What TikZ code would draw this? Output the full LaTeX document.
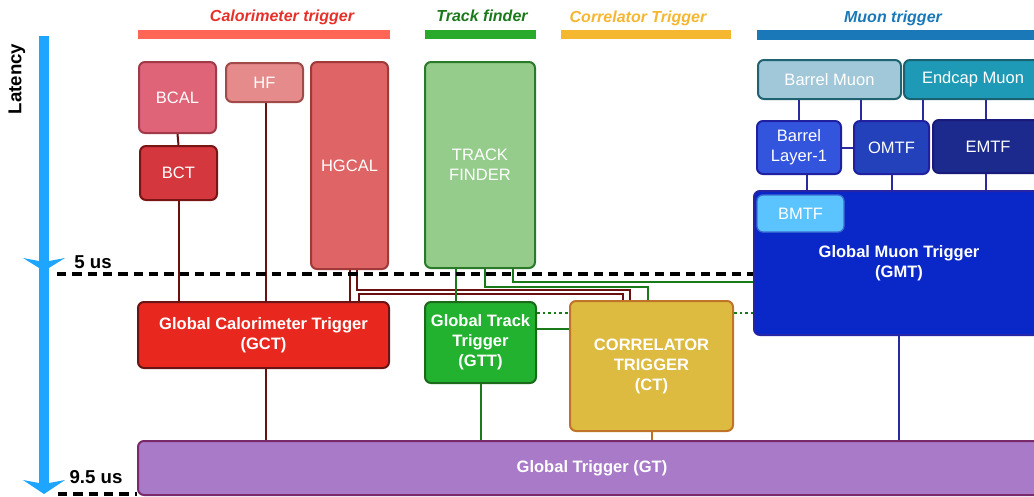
\documentclass[tikz,border=0pt]{standalone}
\usepackage{fontspec}
\setmainfont{Liberation Sans}
\usetikzlibrary{calc}
\definecolor{calored}{HTML}{E8302A}
\definecolor{calobar}{HTML}{FF6655}
\definecolor{trkdark}{HTML}{1A7A1A}
\definecolor{trkbar}{HTML}{2AAA2A}
\definecolor{corr}{HTML}{F5B630}
\definecolor{muon}{HTML}{1A78B8}
\definecolor{latblue}{HTML}{1EA5FF}
\definecolor{caloline}{HTML}{6A1010}
\definecolor{ctline}{HTML}{C07020}
\definecolor{muline}{HTML}{2A2AA0}
\tikzset{
  px/.style={x=0.75pt,y=-0.75pt},
  box/.style={draw, line width=1.5pt, rounded corners=4.5pt, text=white,
    font=\fontsize{12.4}{15}\selectfont, align=center, inner sep=0pt},
  bbox/.style={box, font=\fontsize{12.4}{15}\bfseries\selectfont},
  title/.style={font=\fontsize{12}{14}\bfseries\itshape\selectfont},
  caloc/.style={draw=caloline, line width=1.5pt},
  trkc/.style={draw=trkdark, line width=1.5pt},
  trkdot/.style={draw=trkdark, line width=2pt, dash pattern=on 2pt off 2.2pt},
  ctc/.style={draw=ctline, line width=1.5pt},
  muc/.style={draw=muline, line width=1.5pt},
  latdash/.style={draw=black, line width=3pt, dash pattern=on 7pt off 4.5pt},
  lattext/.style={font=\fontsize{14}{16}\bfseries\selectfont},
}
\newcommand\mkbox[7]{%
  \node[#6, minimum width={(#4-#2)*0.75pt}, minimum height={(#5-#3)*0.75pt}]
    (#1) at ({(#2+#4)/2},{(#3+#5)/2}) {#7};}
\begin{document}
\begin{tikzpicture}[px]
\useasboundingbox (0,0) rectangle (1034,496);
\clip (0,0) rectangle (1034,496);

% titles and bars
\node[title, text=calored] (tcalo) at (282,17) {Calorimeter trigger};
\node[title, text=trkdark] (ttrk) at (482,16) {Track finder};
\node[title, text=corr] (tcorr) at (638,18) {Correlator Trigger};
\node[title, text=muon] (tmuon) at (893,18) {Muon trigger};
\fill[calobar] (138,30) rectangle (390,39);
\fill[trkbar] (425,30) rectangle (536,39);
\fill[corr] (561,30) rectangle (731,39);
\fill[muon] (757,30) rectangle (1040,40);

% latency axis
\node[lattext, rotate=90] (lat) at (17,79) {Latency};
\draw[latblue, line width=7.5pt] (44,36) -- (44,484);
\fill[latblue] (23,258) -- (39,261) -- (49,261) -- (65,258) -- (44,271) -- cycle;
\fill[latblue] (23,480) -- (39,483) -- (49,483) -- (65,480) -- (44,494) -- cycle;
\node[lattext] (t5) at (93,262) {5 us};
\node[lattext] (t95) at (96,477) {9.5 us};

% calorimeter boxes
\mkbox{bcal}{139}{62}{216}{133}{box, fill={rgb,255:red,224;green,100;blue,119}, draw={rgb,255:red,160;green,58;blue,72}}{BCAL}
\mkbox{hf}{226}{63}{303}{102}{box, fill={rgb,255:red,229;green,139;blue,139}, draw={rgb,255:red,160;green,74;blue,74}}{HF}
\mkbox{hgcal}{311}{62}{388}{269}{box, fill={rgb,255:red,222;green,100;blue,102}, draw={rgb,255:red,160;green,58;blue,58}}{HGCAL}
\mkbox{bct}{140}{146}{217}{200}{box, fill={rgb,255:red,212;green,55;blue,61}, draw={rgb,255:red,122;green,21;blue,21}}{BCT}
\mkbox{gct}{138}{302}{389}{368}{bbox, fill={rgb,255:red,232;green,40;blue,31}, draw={rgb,255:red,106;green,21;blue,21}}{Global Calorimeter Trigger\\(GCT)}

% track boxes
\mkbox{tf}{425}{62}{535}{268}{box, fill={rgb,255:red,149;green,204;blue,140}, draw={rgb,255:red,42;green,122;blue,42}}{TRACK\\FINDER}
\mkbox{gtt}{425}{302}{536}{383}{bbox, fill={rgb,255:red,35;green,178;blue,48}, draw={rgb,255:red,26;green,106;blue,26}}{Global Track\\Trigger\\(GTT)}

% correlator
\mkbox{ct}{570}{301}{733}{431}{bbox, fill={rgb,255:red,221;green,186;blue,64}, draw={rgb,255:red,192;green,116;blue,42}}{CORRELATOR\\TRIGGER\\(CT)}

% muon boxes
\mkbox{bm}{758}{60}{901}{99}{box, fill={rgb,255:red,160;green,200;blue,216}, draw={rgb,255:red,31;green,98;blue,114}}{Barrel Muon}
\mkbox{em}{904}{60}{1042}{99}{box, fill={rgb,255:red,30;green,154;blue,182}, draw={rgb,255:red,26;green,98;blue,114}}{Endcap Muon}
\mkbox{bl}{757}{121}{841}{174}{box, fill={rgb,255:red,51;green,85;blue,222}, draw={rgb,255:red,32;green,32;blue,160}}{Barrel\\Layer-1}
\mkbox{omtf}{854}{121}{929}{174}{box, fill={rgb,255:red,34;green,65;blue,186}, draw={rgb,255:red,32;green,32;blue,160}}{OMTF}
\mkbox{emtf}{933}{120}{1043}{173}{box, fill={rgb,255:red,27;green,42;blue,140}, draw={rgb,255:red,26;green,26;blue,122}}{EMTF}
\mkbox{gmt}{754}{191}{1044}{335}{bbox, fill={rgb,255:red,10;green,39;blue,200}, draw={rgb,255:red,37;green,37;blue,165}}{Global Muon Trigger\\(GMT)}
\mkbox{bmtf}{757}{195}{844}{232}{box, fill={rgb,255:red,91;green,195;blue,253}, draw={rgb,255:red,60;green,110;blue,210}, line width=1pt}{BMTF}

% global trigger
\mkbox{gt}{138}{441}{1046}{495}{bbox, fill={rgb,255:red,168;green,122;blue,200}, draw={rgb,255:red,122;green,42;blue,106}}{Global Trigger (GT)}

% calo connectors
\draw[caloc] (bcal.south) -- (bct.north);
\draw[caloc] (bct.south) -- (bct.south |- gct.north);
\coordinate (hfx) at ($(hf.south)+(1.5,0)$);
\draw[caloc] (hfx) -- (hfx |- gct.north);
\coordinate (gctx) at ($(gct.south)+(2.5,0)$);
\draw[caloc] (gctx) -- (gctx |- gt.north);
\draw[caloc] (hgcal.south) -- (hgcal.south |- gct.north);
\draw[caloc] ($(hgcal.south)+(7,0)$) -- ++(0,20) -| ($(ct.north)+(-21.5,0)$);
\draw[caloc] ($(gct.north)+(95,0)$) -- ++(0,-7) -| ($(ct.north)+(-28.5,0)$);

% track connectors
\coordinate (t1) at ($(tf.south)+(-24,0)$);
\draw[trkc] (t1) -- (t1 |- gtt.north);
\draw[trkc] ($(tf.south)+(5,0)$) -- ++(0,18) -| ($(ct.north)+(-3.5,0)$);
\coordinate (t3) at ($(tf.south)+(33,13)$);
\draw[trkc] ($(tf.south)+(33,0)$) -- (t3) -- (t3 -| gmt.west);
\coordinate (g1) at ($(gtt.east)+(0,-13.5)$);
\draw[trkc] (g1) -- (g1 -| ct.west);
\coordinate (g2) at ($(gtt.east)+(0,-29.5)$);
\draw[trkdot] (g2) -- (g2 -| ct.west);
\draw[trkdot] (g2 -| ct.east) -- (g2 -| gmt.west);
\draw[trkc] (gtt.south) -- (gtt.south |- gt.north);
\draw[ctc] (ct.south) -- (ct.south |- gt.north);

% muon connectors
\draw[muc] (bl.north |- bm.south) -- (bl.north);
\coordinate (m2) at ($(omtf.north)+(-30.5,0)$);
\draw[muc] (m2 |- bm.south) -- (m2);
\coordinate (m3) at ($(omtf.north)+(31.5,0)$);
\draw[muc] (m3 |- em.south) -- (m3);
\coordinate (m4) at ($(emtf.north)+(-2,0)$);
\draw[muc] (m4 |- em.south) -- (m4);
\draw[muc] (bl.east) -- (omtf.west);
\coordinate (m5) at ($(bl.south)+(8,0)$);
\draw[muc] (m5) -- (m5 |- gmt.north);
\draw[muc] (omtf.south) -- (omtf.south |- gmt.north);
\draw[muc] (m4 |- emtf.south) -- (m4 |- gmt.north);
\draw[muc] (gmt.south) -- (gmt.south |- gt.north);

% latency levels
\coordinate (d5) at (57,274);
\draw[latdash] (d5) -- (d5 -| gmt.west);
\coordinate (d9) at (58,494);
\draw[latdash] (d9) -- (d9 -| gt.west);
\end{tikzpicture}
\end{document}
